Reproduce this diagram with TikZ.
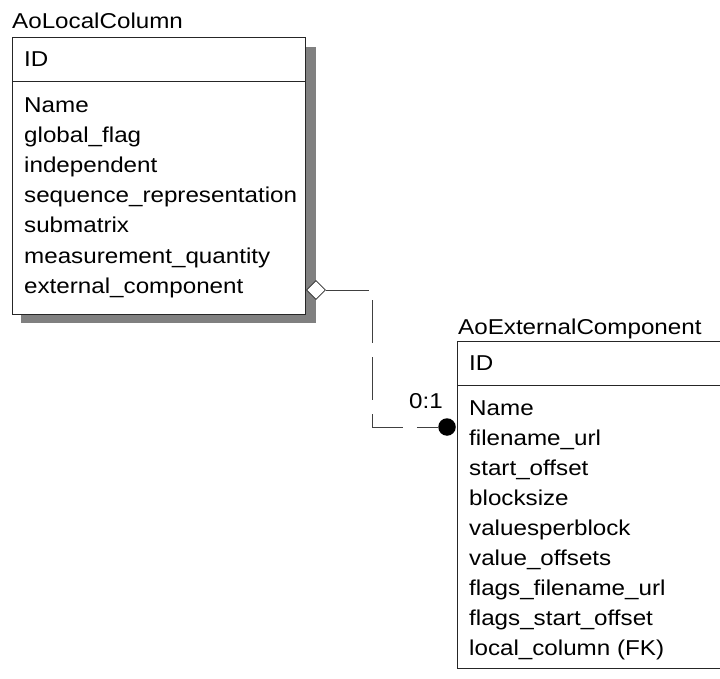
\documentclass[tikz,border=0pt]{standalone}
\usepackage{fontspec}
\setmainfont[FakeStretch=1.125]{Liberation Sans}
\usepackage{tikz}
\usetikzlibrary{shapes.geometric}
\tikzset{
  attr/.style={anchor=base west, inner sep=0pt, font=\fontsize{21.5}{30}\selectfont},
  enttitle/.style={anchor=base west, inner sep=0pt, font=\fontsize{21.5}{30}\selectfont},
  entline/.style={line width=1pt, black!85},
  relline/.style={line width=1pt, black!75, dash pattern=on 43pt off 14pt},
}

\begin{document}
\begin{tikzpicture}[x=1pt, y=-1pt]

\useasboundingbox (0,0) rectangle (720,679);

% AoLocalColumn (shadow, then box)
\fill[black!50] (21,47) rectangle (316,323);
\draw[entline, fill=white] (12,38) rectangle (305,314);
\draw[entline] (12,82) -- (305,82);
\node[enttitle] (lctitle) at (12,29) {AoLocalColumn};
\node[attr] (lcid) at (24,67) {ID};
\node[attr] (lcname) at (24,113) {Name};
\node[attr] (lcflag) at (24,143) {global\_flag};
\node[attr] (lcindep) at (24,173) {independent};
\node[attr] (lcseq) at (24,203) {sequence\_representation};
\node[attr] (lcsub) at (24,233) {submatrix};
\node[attr] (lcmeas) at (24,263) {measurement\_quantity};
\node[attr] (lcext) at (24,293) {external\_component};

% AoExternalComponent (runs off the right edge)
\draw[entline, fill=white] (457,341) rectangle (730,668);
\draw[entline] (457,385) -- (730,385);
\node[enttitle] (ectitle) at (458,334) {AoExternalComponent};
\node[attr] (ecid) at (469,370) {ID};
\node[attr] (ecname) at (469,415) {Name};
\node[attr] (ecfile) at (469,445) {filename\_url};
\node[attr] (ecstart) at (469,475) {start\_offset};
\node[attr] (ecblock) at (469,505) {blocksize};
\node[attr] (ecvpb) at (469,535) {valuesperblock};
\node[attr] (ecvoff) at (469,565) {value\_offsets};
\node[attr] (ecffile) at (469,595) {flags\_filename\_url};
\node[attr] (ecfstart) at (469,625) {flags\_start\_offset};
\node[attr] (eclocal) at (469,655) {local\_column (FK)};

% Relationship ends
\node[diamond, draw=black!85, line width=0.8pt, fill=white, inner sep=0pt,
      minimum width=19pt, minimum height=19pt] (dia) at (316,290) {};
\node[circle, fill=black, inner sep=0pt, minimum size=17.5pt] (dot) at (447,427) {};

% Relationship line
\draw[relline] (dia.east) -- ++(47,0) |- (dot.west);
\node[attr] (card) at (409,408) {0:1};

\end{tikzpicture}
\end{document}
